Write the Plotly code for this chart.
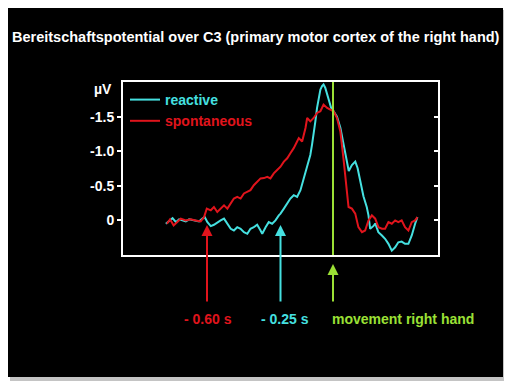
import plotly.graph_objects as go

# ---- data (time in s relative to movement onset, potential in µV) ----
t_reactive = [-0.796,-0.780,-0.764,-0.748,-0.733,-0.717,-0.701,-0.685,-0.662,-0.638,
              -0.622,-0.611,-0.598,-0.582,-0.567,-0.551,-0.535,-0.519,-0.503,-0.487,
              -0.472,-0.456,-0.440,-0.424,-0.408,-0.393,-0.377,-0.361,-0.345,-0.337,
              -0.321,-0.306,-0.290,-0.274,-0.258,-0.250,-0.234,-0.218,-0.203,-0.187,
              -0.171,-0.155,-0.140,-0.123,-0.108,-0.100,-0.092,-0.084,-0.076,-0.068,
              -0.060,-0.052,-0.045,-0.037,-0.028,-0.021,-0.009,0.003,0.019,0.035,
              0.050,0.066,0.075,0.090,0.106,0.117,0.129,0.145,0.161,0.169,
              0.177,0.193,0.201,0.216,0.233,0.248,0.264,0.280,0.296,0.311,
              0.327,0.343,0.359,0.375,0.391,0.402]
v_reactive = [0.048,0.0,-0.033,0.025,-0.015,0.0,0.015,-0.015,0.0,0.015,
              -0.025,-0.048,0.025,0.083,0.063,0.025,0.0,-0.025,0.048,0.121,
              0.146,0.098,0.121,0.170,0.194,0.121,0.098,0.063,0.146,0.194,
              0.098,0.025,0.048,0.0,-0.073,-0.098,-0.170,-0.243,-0.316,-0.364,
              -0.339,-0.437,-0.607,-0.776,-0.946,-1.092,-1.237,-1.431,-1.626,-1.772,
              -1.892,-1.940,-1.965,-1.917,-1.820,-1.722,-1.626,-1.577,-1.50,-1.34,
              -1.10,-0.80,-0.713,-0.80,-0.849,-0.757,-0.582,-0.349,-0.189,-0.073,
              0.121,0.080,0.044,0.170,0.218,0.266,0.339,0.437,0.389,0.316,
              0.306,0.339,0.339,0.218,0.048,-0.048]

t_spontaneous = [-0.791,-0.776,-0.759,-0.740,-0.725,-0.701,-0.677,-0.654,-0.630,-0.614,
                 -0.601,-0.582,-0.567,-0.551,-0.535,-0.519,-0.503,-0.487,-0.472,-0.456,
                 -0.440,-0.424,-0.408,-0.393,-0.377,-0.361,-0.345,-0.329,-0.313,-0.298,
                 -0.282,-0.266,-0.250,-0.234,-0.218,-0.203,-0.187,-0.171,-0.163,-0.147,
                 -0.131,-0.123,-0.108,-0.092,-0.076,-0.060,-0.045,-0.028,-0.013,0.003,
                 0.019,0.035,0.050,0.065,0.074,0.090,0.106,0.121,0.138,0.153,
                 0.169,0.185,0.201,0.216,0.233,0.248,0.264,0.280,0.296,0.311,
                 0.327,0.343,0.359,0.375,0.391,0.402]
v_spontaneous = [0.048,-0.015,0.073,0.025,-0.025,0.0,-0.015,0.0,0.015,-0.048,
                 -0.170,-0.146,-0.194,-0.121,-0.170,-0.218,-0.170,-0.243,-0.316,-0.339,
                 -0.316,-0.389,-0.413,-0.437,-0.509,-0.558,-0.607,-0.611,-0.630,-0.607,
                 -0.680,-0.728,-0.776,-0.849,-0.898,-0.971,-1.044,-1.140,-1.189,-1.140,
                 -1.335,-1.480,-1.431,-1.480,-1.553,-1.577,-1.674,-1.626,-1.601,-1.577,
                 -1.480,-1.285,-0.89,-0.437,-0.194,-0.170,-0.098,0.098,0.170,0.146,
                 0.0,-0.073,-0.025,0.098,0.121,0.121,0.025,0.048,0.0,0.025,
                 0.0,0.098,0.146,0.025,0.0,-0.048]

y_tickvals = [-1.5, -1.0, -0.5, 0]
y_ticktext = ["-1.5", "-1.0", "-0.5", "0"]
onset_reactive = -0.25
onset_spontaneous = -0.60
movement = 0.0

CYAN = "#45e0e0"
RED = "#e0141c"
GREEN = "#9be035"
FONT = "Arial, Liberation Sans, sans-serif"

# page offset of the figure (body margin) is 8 px
OFF = 8
W, H = 512 - OFF, 384 - OFF
BOX_L, BOX_R, BOX_T, BOX_B = 123, 438, 82, 255      # plot box in page pixels
L, T = BOX_L - OFF, BOX_T - OFF
PW, PH = BOX_R - BOX_L, BOX_B - BOX_T
R, B = W - L - PW, H - T - PH

def fx(px):
    return (px - BOX_L) / PW

def fy(py):
    return (BOX_B - py) / PH

fig = go.Figure()
fig.add_trace(go.Scatter(x=t_reactive, y=v_reactive, mode="lines",
                         line=dict(color=CYAN, width=2),
                         name='<span style="color:%s">reactive</span>' % CYAN))
fig.add_trace(go.Scatter(x=t_spontaneous, y=v_spontaneous, mode="lines",
                         line=dict(color=RED, width=2),
                         name='<span style="color:%s">spontaneous</span>' % RED))
fig.add_trace(go.Scatter(x=[None], y=[None], yaxis="y2", showlegend=False,
                         hoverinfo="skip"))

shapes = [
    dict(type="rect", xref="paper", yref="paper", layer="below",
         x0=fx(10), x1=fx(507), y0=fy(10), y1=fy(381),
         fillcolor="#c4c4c4", line=dict(width=0)),
    dict(type="rect", xref="paper", yref="paper", layer="below",
         x0=fx(OFF), x1=fx(503), y0=fy(OFF), y1=fy(377),
         fillcolor="black", line=dict(width=0)),
    dict(type="line", xref="x", yref="paper", x0=movement, x1=movement,
         y0=0, y1=1, line=dict(color=GREEN, width=2)),
]

bold = dict(family=FONT, size=14, weight="bold")
annotations = [
    dict(text="Bereitschaftspotential over C3 (primary motor cortex of the right hand)",
         xref="paper", yref="paper", x=fx(256), y=fy(37), showarrow=False,
         xanchor="center", yanchor="middle",
         font=dict(bold, size=14.5, color="white")),
    dict(text="µV", xref="paper", yref="paper", x=fx(114), y=fy(89),
         showarrow=False, xanchor="right", yanchor="middle",
         font=dict(bold, color="white")),
]
for xv, col, tip, lab, xa, xs in [
        (onset_spontaneous, RED, 225, "- 0.60 s", "center", 1),
        (onset_reactive, CYAN, 225, "- 0.25 s", "center", 4),
        (movement, GREEN, 264, "movement right hand", "left", -3)]:
    annotations.append(dict(text="", xref="x", yref="paper", x=xv, y=fy(tip),
                            showarrow=True, ax=0, ay=303 - tip, axref="pixel",
                            arrowhead=2, arrowsize=1.1, arrowwidth=2,
                            arrowcolor=col, standoff=0))
    annotations.append(dict(text=lab, xref="x", yref="paper", x=xv, y=fy(319),
                            showarrow=False, xanchor=xa, yanchor="middle",
                            xshift=xs, font=dict(bold, color=col)))

fig.update_layout(
    width=W, height=H,
    margin=dict(l=L, r=R, t=T, b=B, pad=0),
    paper_bgcolor="white", plot_bgcolor="black",
    showlegend=True,
    legend=dict(x=fx(125), y=fy(84), xanchor="left", yanchor="top",
                bgcolor="rgba(0,0,0,0)", font=dict(bold, color="white"),
                tracegroupgap=0),
    xaxis=dict(range=[-1.0, 0.5], showticklabels=False, ticks="",
               showgrid=False, zeroline=False, showline=True,
               linecolor="white", linewidth=2, mirror=True),
    yaxis=dict(range=[0.5, -2.0], tickvals=y_tickvals, ticktext=y_ticktext,
               ticks="outside", ticklen=4, tickwidth=1.5, tickcolor="white",
               tickfont=dict(bold, color="white"), showgrid=False,
               zeroline=False, showline=True, linecolor="white",
               linewidth=2, mirror=True),
    yaxis2=dict(range=[0.5, -2.0], overlaying="y", side="right",
                tickvals=y_tickvals, ticks="inside", ticklen=4, tickwidth=1.5,
                tickcolor="white", showticklabels=False, showgrid=False,
                zeroline=False, showline=False),
    shapes=shapes, annotations=annotations,
)

fig.write_html("out.html")
